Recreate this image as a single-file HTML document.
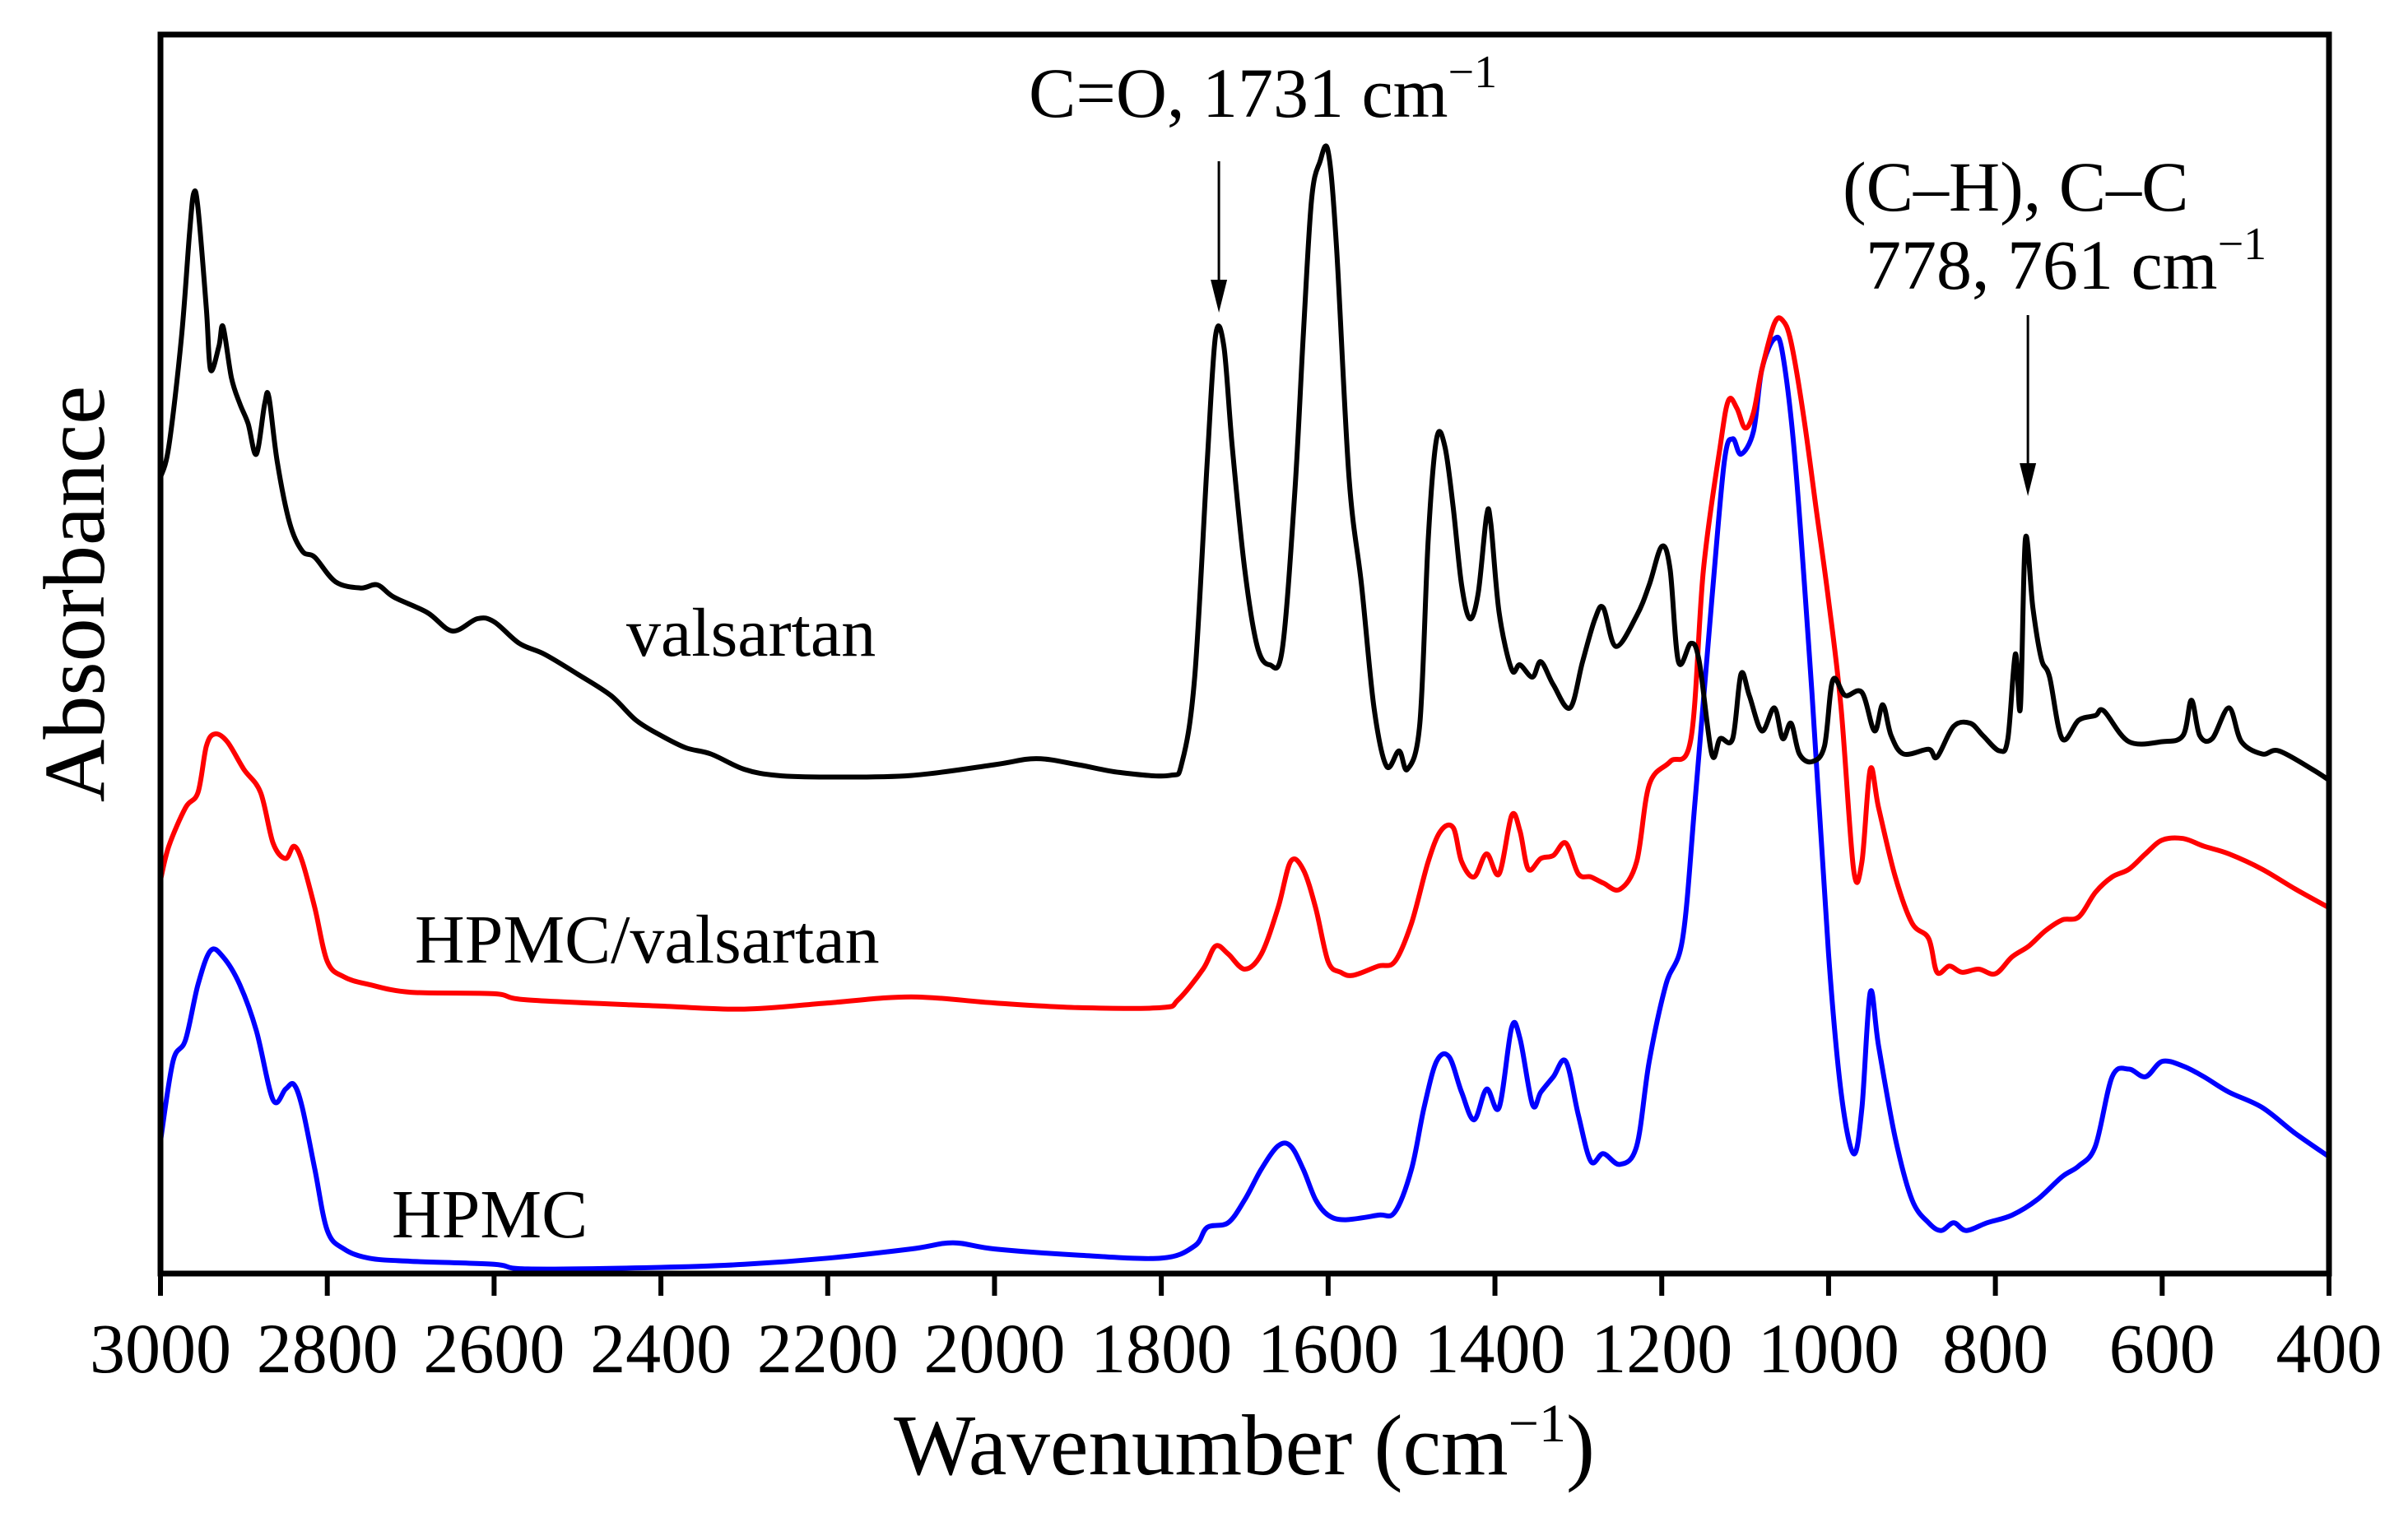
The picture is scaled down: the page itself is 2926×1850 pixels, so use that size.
<!DOCTYPE html>
<html><head><meta charset="utf-8">
<style>
html,body{margin:0;padding:0;background:#fff;}
svg{display:block;font-family:"Liberation Serif",serif;}
</style></head>
<body>
<svg id="chart" width="2926" height="1850" viewBox="0 0 2926 1850" xmlns="http://www.w3.org/2000/svg">
<g id="series"></g>
<g id="axes"></g>
<text x="0" y="0" font-size="106" text-anchor="middle" transform="translate(126,722) rotate(-90)">Absorbance</text>
<text x="1512" y="1792" font-size="105" text-anchor="middle">Wavenumber (cm<tspan font-size="66" dy="-40">−1</tspan><tspan dy="40">)</tspan></text>
<text x="761" y="797" font-size="84">valsartan</text>
<text x="504" y="1170" font-size="84">HPMC/valsartan</text>
<text x="476" y="1504" font-size="84">HPMC</text>
<text x="1250" y="142" font-size="86">C=O, 1731 cm<tspan font-size="56" dy="-36">−1</tspan></text>
<text x="2239" y="256" font-size="86">(C–H), C–C</text>
<text x="2267" y="351" font-size="86">778, 761 cm<tspan font-size="56" dy="-36">−1</tspan></text>
</svg>
<script>
const tickValues = [3000,2800,2600,2400,2200,2000,1800,1600,1400,1200,1000,800,600,400];
const tickLabels = ["3000","2800","2600","2400","2200","2000","1800","1600","1400","1200","1000","800","600","400"];
const valsartanWn = [3000,2990,2975,2965,2960,2955,2945,2940,2930,2925,2915,2905,2895,2885,2875,2870,2860,2845,2830,2815,2790,2760,2740,2720,2680,2650,2620,2600,2570,2540,2500,2460,2430,2400,2370,2340,2300,2260,2200,2100,2000,1950,1900,1850,1790,1775,1760,1745,1735,1725,1715,1700,1685,1670,1655,1640,1630,1620,1610,1600,1590,1575,1560,1545,1530,1515,1505,1490,1480,1470,1460,1450,1440,1430,1420,1410,1405,1395,1380,1370,1355,1345,1330,1310,1295,1280,1270,1255,1230,1215,1200,1190,1180,1165,1155,1140,1130,1115,1105,1095,1080,1065,1055,1045,1035,1020,1005,995,980,960,945,935,925,910,880,870,850,830,815,795,785,776,770,764,755,745,735,720,700,680,670,640,600,575,565,555,540,520,505,480,460,420,400];
const valsartanAbs = [518,538,608,678,703,693,628,588,603,616,583,566,553,533,566,570,528,488,470,466,450,446,448,440,430,418,426,424,410,403,390,376,360,350,342,338,328,324,323,324,331,335,331,326,324,333,388,528,610,603,538,458,408,396,406,508,608,698,723,730,668,518,448,368,330,340,328,358,478,543,538,498,448,426,443,493,488,430,393,396,388,398,383,368,398,426,433,408,428,448,473,458,398,410,398,338,348,348,390,376,353,368,348,358,338,333,343,386,376,378,353,370,350,338,341,336,356,358,350,340,348,403,368,478,433,400,388,348,360,363,366,346,346,350,373,350,348,368,346,338,340,328,321];
const mixWn = [3000,2990,2970,2955,2945,2935,2920,2900,2880,2865,2850,2840,2830,2815,2800,2780,2750,2700,2600,2560,2400,2300,2200,2100,2000,1900,1800,1780,1750,1735,1720,1700,1680,1660,1645,1630,1615,1600,1585,1570,1540,1520,1500,1480,1465,1450,1440,1425,1410,1395,1380,1370,1360,1345,1330,1315,1300,1285,1270,1250,1230,1215,1190,1165,1150,1130,1120,1110,1100,1090,1080,1065,1055,1045,1030,1015,1000,985,970,960,950,940,920,900,880,870,855,840,820,800,780,760,740,720,700,680,660,640,620,600,575,550,520,480,440,400];
const mixAbs = [256,278,303,313,343,351,346,328,313,280,270,278,268,238,203,193,188,183,182,178,174,172,176,180,176,173,173,178,198,213,208,198,208,238,268,263,238,203,196,194,200,203,228,268,288,290,268,258,273,260,298,288,263,270,272,280,260,258,254,250,268,318,333,348,458,538,568,563,550,560,588,618,620,606,558,498,438,368,263,268,328,303,258,228,218,196,200,196,198,195,206,213,223,230,232,248,258,263,273,282,283,278,273,263,250,238];
const hpmcWn = [3000,2985,2970,2955,2940,2925,2905,2885,2865,2850,2840,2830,2815,2800,2780,2750,2700,2600,2560,2400,2300,2200,2100,2050,2000,1900,1800,1760,1745,1720,1700,1680,1660,1645,1630,1615,1600,1580,1540,1520,1500,1485,1470,1455,1440,1425,1410,1395,1380,1370,1355,1345,1330,1315,1300,1285,1270,1250,1230,1215,1195,1175,1160,1140,1125,1115,1105,1090,1080,1065,1055,1040,1020,1000,985,970,960,950,940,920,900,880,865,850,835,810,780,750,720,700,680,660,640,620,600,575,550,520,480,440,400];
const hpmcAbs = [86,138,152,188,210,206,188,158,113,120,123,108,68,28,16,10,8,6,3,4,6,10,16,20,16,12,10,18,30,33,48,68,83,83,68,48,38,35,38,40,68,108,138,141,118,100,120,108,160,153,110,118,128,138,103,73,78,71,83,138,188,218,308,438,528,543,533,548,588,608,598,528,378,208,118,78,108,183,148,88,48,33,28,33,28,33,38,48,63,70,83,128,133,128,138,135,128,118,108,91,76];

const L=195,R=2830,T=42,B=1548;
const X0=3000,X1=400,YMAX=806;
function xScale(w){return L+(X0-w)*(R-L)/(X0-X1);}
function yScale(v){return B-v*(B-T)/YMAX;}
const NS="http://www.w3.org/2000/svg";
const sg=document.getElementById('series');
function smoothPath(pts){
  let d='M'+pts[0][0].toFixed(1)+','+pts[0][1].toFixed(1);
  for(let i=0;i<pts.length-1;i++){
    const p0=pts[Math.max(0,i-1)],p1=pts[i],p2=pts[i+1],p3=pts[Math.min(pts.length-1,i+2)];
    const k=1/6;
    const c1x=p1[0]+(p2[0]-p0[0])*k,c1y=p1[1]+(p2[1]-p0[1])*k;
    const c2x=p2[0]-(p3[0]-p1[0])*k,c2y=p2[1]-(p3[1]-p1[1])*k;
    d+=' C'+c1x.toFixed(1)+','+c1y.toFixed(1)+' '+c2x.toFixed(1)+','+c2y.toFixed(1)+' '+p2[0].toFixed(1)+','+p2[1].toFixed(1);
  }
  return d;
}
function drawSeries(wn,ab,color,name){
  const pts=wn.map((w,i)=>[xScale(w),yScale(ab[i])]);
  const p=document.createElementNS(NS,'path');
  p.setAttribute('d',smoothPath(pts));
  p.setAttribute('fill','none');p.setAttribute('stroke',color);p.setAttribute('stroke-width','6');
  p.setAttribute('stroke-linejoin','round');p.setAttribute('stroke-linecap','round');
  
  
  sg.appendChild(p);
}
drawSeries(hpmcWn,hpmcAbs,'#0000ff','series-hpmc');
drawSeries(mixWn,mixAbs,'#ff0000','series-hpmc-valsartan');
drawSeries(valsartanWn,valsartanAbs,'#000000','series-valsartan');

const ag=document.getElementById('axes');
const frame=document.createElementNS(NS,'rect');
frame.setAttribute('x',L);frame.setAttribute('y',T);frame.setAttribute('width',R-L);frame.setAttribute('height',B-T);
frame.setAttribute('fill','none');frame.setAttribute('stroke','#000');frame.setAttribute('stroke-width','7');


ag.appendChild(frame);
tickValues.forEach((v,i)=>{
  const x=xScale(v);
  const t=document.createElementNS(NS,'line');
  t.setAttribute('x1',x);t.setAttribute('x2',x);t.setAttribute('y1',B);t.setAttribute('y2',B+27);
  t.setAttribute('stroke','#000');t.setAttribute('stroke-width','6');
  
  
  ag.appendChild(t);
  const tx=document.createElementNS(NS,'text');
  tx.setAttribute('x',x);tx.setAttribute('y',1668);tx.setAttribute('font-size','86');tx.setAttribute('text-anchor','middle');
  tx.textContent=tickLabels[i];
  
  
  ag.appendChild(tx);
});
function arrow(wn,y1,y2,name){
  const x=xScale(wn);
  const a=document.createElementNS(NS,'line');
  a.setAttribute('x1',x);a.setAttribute('x2',x);a.setAttribute('y1',y1);a.setAttribute('y2',y2-38);
  a.setAttribute('stroke','#000');a.setAttribute('stroke-width','3');
  
  
  ag.appendChild(a);
  const h=document.createElementNS(NS,'polygon');
  h.setAttribute('points',(x-10)+','+(y2-40)+' '+(x+10)+','+(y2-40)+' '+x+','+y2);
  h.setAttribute('fill','#000');
  
  
  ag.appendChild(h);
}
arrow(1731,196,380,'arrow-co');
arrow(761,383,603,'arrow-ch');
</script>
</body></html>
